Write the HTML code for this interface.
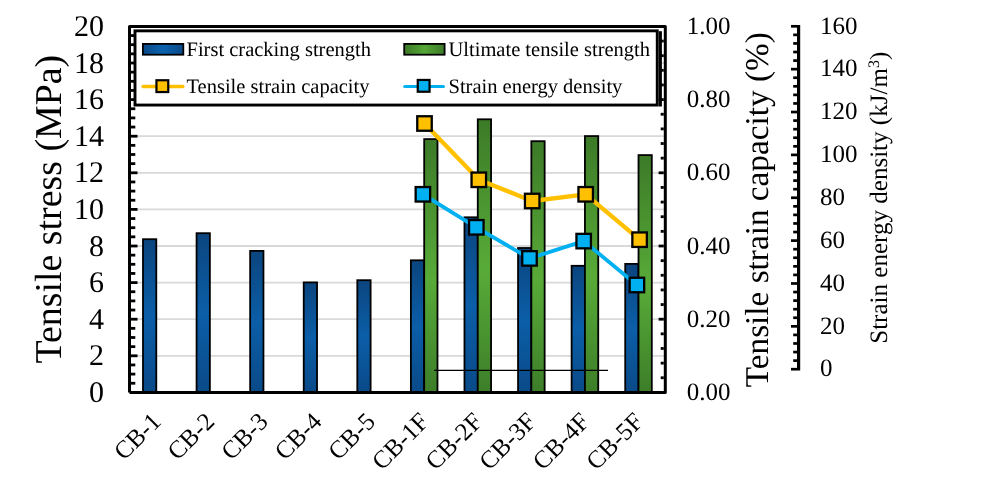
<!DOCTYPE html><html><head><meta charset="utf-8"><style>html,body{margin:0;padding:0;background:#fff;}svg{display:block;will-change:transform;font-family:"Liberation Serif",serif;text-rendering:geometricPrecision;}</style></head><body>
<svg width="988" height="489" viewBox="0 0 988 489">
<defs>
<linearGradient id="gb" x1="0" y1="0" x2="0" y2="1">
<stop offset="0" stop-color="#0b457e"/><stop offset="0.5" stop-color="#0b5ea8"/><stop offset="1" stop-color="#0a4a88"/></linearGradient>
<linearGradient id="gg" x1="0" y1="0" x2="0" y2="1">
<stop offset="0" stop-color="#3c7a27"/><stop offset="0.55" stop-color="#58ab38"/><stop offset="1" stop-color="#3d7e29"/></linearGradient>
<linearGradient id="gbl" x1="0" y1="0" x2="1" y2="0">
<stop offset="0" stop-color="#0a4a88"/><stop offset="0.5" stop-color="#0b62ae"/><stop offset="1" stop-color="#0a4a88"/></linearGradient>
<linearGradient id="ggl" x1="0" y1="0" x2="1" y2="0">
<stop offset="0" stop-color="#3c7a27"/><stop offset="0.5" stop-color="#55a636"/><stop offset="1" stop-color="#3c7a27"/></linearGradient>
</defs>
<line x1="131" y1="355.80" x2="664" y2="355.80" stroke="#d9d9d9" stroke-width="1.8"/>
<line x1="131" y1="319.20" x2="664" y2="319.20" stroke="#d9d9d9" stroke-width="1.8"/>
<line x1="131" y1="282.60" x2="664" y2="282.60" stroke="#d9d9d9" stroke-width="1.8"/>
<line x1="131" y1="246.00" x2="664" y2="246.00" stroke="#d9d9d9" stroke-width="1.8"/>
<line x1="131" y1="209.40" x2="664" y2="209.40" stroke="#d9d9d9" stroke-width="1.8"/>
<line x1="131" y1="172.80" x2="664" y2="172.80" stroke="#d9d9d9" stroke-width="1.8"/>
<line x1="131" y1="136.20" x2="664" y2="136.20" stroke="#d9d9d9" stroke-width="1.8"/>
<line x1="131" y1="99.60" x2="664" y2="99.60" stroke="#d9d9d9" stroke-width="1.8"/>
<line x1="131" y1="63.00" x2="664" y2="63.00" stroke="#d9d9d9" stroke-width="1.8"/>
<rect x="142.99" y="239.20" width="13.30" height="153.20" fill="url(#gb)" stroke="#000" stroke-width="1.8"/>
<rect x="196.57" y="233.20" width="13.30" height="159.20" fill="url(#gb)" stroke="#000" stroke-width="1.8"/>
<rect x="250.15" y="250.90" width="13.30" height="141.50" fill="url(#gb)" stroke="#000" stroke-width="1.8"/>
<rect x="303.73" y="282.40" width="13.30" height="110.00" fill="url(#gb)" stroke="#000" stroke-width="1.8"/>
<rect x="357.31" y="280.20" width="13.30" height="112.20" fill="url(#gb)" stroke="#000" stroke-width="1.8"/>
<rect x="410.89" y="260.30" width="13.30" height="132.10" fill="url(#gb)" stroke="#000" stroke-width="1.8"/>
<rect x="464.47" y="217.30" width="13.30" height="175.10" fill="url(#gb)" stroke="#000" stroke-width="1.8"/>
<rect x="518.05" y="248.00" width="13.30" height="144.40" fill="url(#gb)" stroke="#000" stroke-width="1.8"/>
<rect x="571.63" y="265.80" width="13.30" height="126.60" fill="url(#gb)" stroke="#000" stroke-width="1.8"/>
<rect x="625.21" y="263.90" width="13.30" height="128.50" fill="url(#gb)" stroke="#000" stroke-width="1.8"/>
<rect x="424.19" y="139.10" width="13.30" height="253.30" fill="url(#gg)" stroke="#000" stroke-width="1.8"/>
<rect x="477.77" y="119.30" width="13.30" height="273.10" fill="url(#gg)" stroke="#000" stroke-width="1.8"/>
<rect x="531.35" y="141.20" width="13.30" height="251.20" fill="url(#gg)" stroke="#000" stroke-width="1.8"/>
<rect x="584.93" y="136.10" width="13.30" height="256.30" fill="url(#gg)" stroke="#000" stroke-width="1.8"/>
<rect x="638.51" y="155.10" width="13.30" height="237.30" fill="url(#gg)" stroke="#000" stroke-width="1.8"/>
<line x1="434" y1="370.4" x2="608" y2="370.4" stroke="#000" stroke-width="1.4"/>
<polyline points="424.5,123.5 478.8,179.8 532.2,201.0 585.7,194.3 639.6,239.7" fill="none" stroke="#ffc000" stroke-width="4.3" stroke-linejoin="round"/>
<polyline points="422.9,194.3 476.3,227.3 529.5,258.4 583.7,241.1 636.9,285.0" fill="none" stroke="#00b0f0" stroke-width="3.8" stroke-linejoin="round"/>
<rect x="417.25" y="116.25" width="14.5" height="14.5" fill="#ffc000" stroke="#000" stroke-width="2.3"/>
<rect x="471.55" y="172.55" width="14.5" height="14.5" fill="#ffc000" stroke="#000" stroke-width="2.3"/>
<rect x="524.95" y="193.75" width="14.5" height="14.5" fill="#ffc000" stroke="#000" stroke-width="2.3"/>
<rect x="578.45" y="187.05" width="14.5" height="14.5" fill="#ffc000" stroke="#000" stroke-width="2.3"/>
<rect x="632.35" y="232.45" width="14.5" height="14.5" fill="#ffc000" stroke="#000" stroke-width="2.3"/>
<rect x="415.65" y="187.05" width="14.5" height="14.5" fill="#00b0f0" stroke="#000" stroke-width="2.3"/>
<rect x="469.05" y="220.05" width="14.5" height="14.5" fill="#00b0f0" stroke="#000" stroke-width="2.3"/>
<rect x="522.25" y="251.15" width="14.5" height="14.5" fill="#00b0f0" stroke="#000" stroke-width="2.3"/>
<rect x="576.45" y="233.85" width="14.5" height="14.5" fill="#00b0f0" stroke="#000" stroke-width="2.3"/>
<rect x="629.65" y="277.75" width="14.5" height="14.5" fill="#00b0f0" stroke="#000" stroke-width="2.3"/>
<path d="M129.5,392.4 V26.5 H665.3 V392.4 H129.5" fill="none" stroke="#000" stroke-width="3" stroke-linejoin="round"/>
<line x1="131.00" y1="392.40" x2="137.50" y2="392.40" stroke="#000" stroke-width="2.8"/>
<line x1="131.00" y1="383.25" x2="135.30" y2="383.25" stroke="#000" stroke-width="2.8"/>
<line x1="131.00" y1="374.10" x2="135.30" y2="374.10" stroke="#000" stroke-width="2.8"/>
<line x1="131.00" y1="364.95" x2="135.30" y2="364.95" stroke="#000" stroke-width="2.8"/>
<line x1="131.00" y1="355.80" x2="137.50" y2="355.80" stroke="#000" stroke-width="2.8"/>
<line x1="131.00" y1="346.65" x2="135.30" y2="346.65" stroke="#000" stroke-width="2.8"/>
<line x1="131.00" y1="337.50" x2="135.30" y2="337.50" stroke="#000" stroke-width="2.8"/>
<line x1="131.00" y1="328.35" x2="135.30" y2="328.35" stroke="#000" stroke-width="2.8"/>
<line x1="131.00" y1="319.20" x2="137.50" y2="319.20" stroke="#000" stroke-width="2.8"/>
<line x1="131.00" y1="310.05" x2="135.30" y2="310.05" stroke="#000" stroke-width="2.8"/>
<line x1="131.00" y1="300.90" x2="135.30" y2="300.90" stroke="#000" stroke-width="2.8"/>
<line x1="131.00" y1="291.75" x2="135.30" y2="291.75" stroke="#000" stroke-width="2.8"/>
<line x1="131.00" y1="282.60" x2="137.50" y2="282.60" stroke="#000" stroke-width="2.8"/>
<line x1="131.00" y1="273.45" x2="135.30" y2="273.45" stroke="#000" stroke-width="2.8"/>
<line x1="131.00" y1="264.30" x2="135.30" y2="264.30" stroke="#000" stroke-width="2.8"/>
<line x1="131.00" y1="255.15" x2="135.30" y2="255.15" stroke="#000" stroke-width="2.8"/>
<line x1="131.00" y1="246.00" x2="137.50" y2="246.00" stroke="#000" stroke-width="2.8"/>
<line x1="131.00" y1="236.85" x2="135.30" y2="236.85" stroke="#000" stroke-width="2.8"/>
<line x1="131.00" y1="227.70" x2="135.30" y2="227.70" stroke="#000" stroke-width="2.8"/>
<line x1="131.00" y1="218.55" x2="135.30" y2="218.55" stroke="#000" stroke-width="2.8"/>
<line x1="131.00" y1="209.40" x2="137.50" y2="209.40" stroke="#000" stroke-width="2.8"/>
<line x1="131.00" y1="200.25" x2="135.30" y2="200.25" stroke="#000" stroke-width="2.8"/>
<line x1="131.00" y1="191.10" x2="135.30" y2="191.10" stroke="#000" stroke-width="2.8"/>
<line x1="131.00" y1="181.95" x2="135.30" y2="181.95" stroke="#000" stroke-width="2.8"/>
<line x1="131.00" y1="172.80" x2="137.50" y2="172.80" stroke="#000" stroke-width="2.8"/>
<line x1="131.00" y1="163.65" x2="135.30" y2="163.65" stroke="#000" stroke-width="2.8"/>
<line x1="131.00" y1="154.50" x2="135.30" y2="154.50" stroke="#000" stroke-width="2.8"/>
<line x1="131.00" y1="145.35" x2="135.30" y2="145.35" stroke="#000" stroke-width="2.8"/>
<line x1="131.00" y1="136.20" x2="137.50" y2="136.20" stroke="#000" stroke-width="2.8"/>
<line x1="131.00" y1="127.05" x2="135.30" y2="127.05" stroke="#000" stroke-width="2.8"/>
<line x1="131.00" y1="117.90" x2="135.30" y2="117.90" stroke="#000" stroke-width="2.8"/>
<line x1="131.00" y1="108.75" x2="135.30" y2="108.75" stroke="#000" stroke-width="2.8"/>
<line x1="131.00" y1="99.60" x2="137.50" y2="99.60" stroke="#000" stroke-width="2.8"/>
<line x1="131.00" y1="90.45" x2="135.30" y2="90.45" stroke="#000" stroke-width="2.8"/>
<line x1="131.00" y1="81.30" x2="135.30" y2="81.30" stroke="#000" stroke-width="2.8"/>
<line x1="131.00" y1="72.15" x2="135.30" y2="72.15" stroke="#000" stroke-width="2.8"/>
<line x1="131.00" y1="63.00" x2="137.50" y2="63.00" stroke="#000" stroke-width="2.8"/>
<line x1="131.00" y1="53.85" x2="135.30" y2="53.85" stroke="#000" stroke-width="2.8"/>
<line x1="131.00" y1="44.70" x2="135.30" y2="44.70" stroke="#000" stroke-width="2.8"/>
<line x1="131.00" y1="35.55" x2="135.30" y2="35.55" stroke="#000" stroke-width="2.8"/>
<line x1="131.00" y1="26.40" x2="137.50" y2="26.40" stroke="#000" stroke-width="2.8"/>
<line x1="658.60" y1="392.40" x2="663.80" y2="392.40" stroke="#000" stroke-width="2.8"/>
<line x1="660.70" y1="377.76" x2="663.80" y2="377.76" stroke="#000" stroke-width="2.8"/>
<line x1="660.70" y1="363.12" x2="663.80" y2="363.12" stroke="#000" stroke-width="2.8"/>
<line x1="660.70" y1="348.48" x2="663.80" y2="348.48" stroke="#000" stroke-width="2.8"/>
<line x1="660.70" y1="333.84" x2="663.80" y2="333.84" stroke="#000" stroke-width="2.8"/>
<line x1="658.60" y1="319.20" x2="663.80" y2="319.20" stroke="#000" stroke-width="2.8"/>
<line x1="660.70" y1="304.56" x2="663.80" y2="304.56" stroke="#000" stroke-width="2.8"/>
<line x1="660.70" y1="289.92" x2="663.80" y2="289.92" stroke="#000" stroke-width="2.8"/>
<line x1="660.70" y1="275.28" x2="663.80" y2="275.28" stroke="#000" stroke-width="2.8"/>
<line x1="660.70" y1="260.64" x2="663.80" y2="260.64" stroke="#000" stroke-width="2.8"/>
<line x1="658.60" y1="246.00" x2="663.80" y2="246.00" stroke="#000" stroke-width="2.8"/>
<line x1="660.70" y1="231.36" x2="663.80" y2="231.36" stroke="#000" stroke-width="2.8"/>
<line x1="660.70" y1="216.72" x2="663.80" y2="216.72" stroke="#000" stroke-width="2.8"/>
<line x1="660.70" y1="202.08" x2="663.80" y2="202.08" stroke="#000" stroke-width="2.8"/>
<line x1="660.70" y1="187.44" x2="663.80" y2="187.44" stroke="#000" stroke-width="2.8"/>
<line x1="658.60" y1="172.80" x2="663.80" y2="172.80" stroke="#000" stroke-width="2.8"/>
<line x1="660.70" y1="158.16" x2="663.80" y2="158.16" stroke="#000" stroke-width="2.8"/>
<line x1="660.70" y1="143.52" x2="663.80" y2="143.52" stroke="#000" stroke-width="2.8"/>
<line x1="660.70" y1="128.88" x2="663.80" y2="128.88" stroke="#000" stroke-width="2.8"/>
<line x1="660.70" y1="114.24" x2="663.80" y2="114.24" stroke="#000" stroke-width="2.8"/>
<line x1="658.60" y1="99.60" x2="663.80" y2="99.60" stroke="#000" stroke-width="2.8"/>
<line x1="660.70" y1="84.96" x2="663.80" y2="84.96" stroke="#000" stroke-width="2.8"/>
<line x1="660.70" y1="70.32" x2="663.80" y2="70.32" stroke="#000" stroke-width="2.8"/>
<line x1="660.70" y1="55.68" x2="663.80" y2="55.68" stroke="#000" stroke-width="2.8"/>
<line x1="660.70" y1="41.04" x2="663.80" y2="41.04" stroke="#000" stroke-width="2.8"/>
<line x1="658.60" y1="26.40" x2="663.80" y2="26.40" stroke="#000" stroke-width="2.8"/>
<rect x="135" y="30.85" width="522.25" height="74.2" fill="#fff" stroke="#000" stroke-width="2.9"/>
<rect x="658.8" y="31.2" width="3.1" height="75.3" fill="#000"/>
<rect x="142.9" y="43.9" width="40.4" height="10.8" fill="url(#gbl)" stroke="#000" stroke-width="1.8"/>
<rect x="404.2" y="43.9" width="40.4" height="10.8" fill="url(#ggl)" stroke="#000" stroke-width="1.8"/>
<line x1="143.2" y1="86.5" x2="182.8" y2="86.5" stroke="#ffc000" stroke-width="3.6" stroke-linecap="round"/>
<rect x="156.45" y="80.25" width="11.8" height="11.8" fill="#ffc000" stroke="#000" stroke-width="2.2"/>
<line x1="404.8" y1="86.5" x2="443.4" y2="86.5" stroke="#00b0f0" stroke-width="3.2" stroke-linecap="round"/>
<rect x="417.75" y="79.95" width="11.8" height="11.8" fill="#00b0f0" stroke="#000" stroke-width="2.2"/>
<text x="186.5" y="56.1" font-size="20.5">First cracking strength</text>
<text x="448.5" y="56.1" font-size="20.5">Ultimate tensile strength</text>
<text x="186.5" y="93.1" font-size="20.5">Tensile strain capacity</text>
<text x="448.5" y="93.1" font-size="20.5">Strain energy density</text>
<text x="104" y="402.00" font-size="30" text-anchor="end">0</text>
<text x="104" y="365.40" font-size="30" text-anchor="end">2</text>
<text x="104" y="328.80" font-size="30" text-anchor="end">4</text>
<text x="104" y="292.20" font-size="30" text-anchor="end">6</text>
<text x="104" y="255.60" font-size="30" text-anchor="end">8</text>
<text x="104" y="219.00" font-size="30" text-anchor="end">10</text>
<text x="104" y="182.40" font-size="30" text-anchor="end">12</text>
<text x="104" y="145.80" font-size="30" text-anchor="end">14</text>
<text x="104" y="109.20" font-size="30" text-anchor="end">16</text>
<text x="104" y="72.60" font-size="30" text-anchor="end">18</text>
<text x="104" y="36.00" font-size="30" text-anchor="end">20</text>
<text x="686.8" y="400.00" font-size="25">0.00</text>
<text x="686.8" y="326.80" font-size="25">0.20</text>
<text x="686.8" y="253.60" font-size="25">0.40</text>
<text x="686.8" y="180.40" font-size="25">0.60</text>
<text x="686.8" y="107.20" font-size="25">0.80</text>
<text x="686.8" y="34.00" font-size="25">1.00</text>
<line x1="798.6" y1="25.1" x2="798.6" y2="370.59999999999997" stroke="#000" stroke-width="3.2"/>
<line x1="791.00" y1="369.20" x2="797.2" y2="369.20" stroke="#000" stroke-width="2.7"/>
<line x1="793.20" y1="360.63" x2="797.2" y2="360.63" stroke="#000" stroke-width="2.7"/>
<line x1="793.20" y1="352.06" x2="797.2" y2="352.06" stroke="#000" stroke-width="2.7"/>
<line x1="793.20" y1="343.48" x2="797.2" y2="343.48" stroke="#000" stroke-width="2.7"/>
<line x1="793.20" y1="334.91" x2="797.2" y2="334.91" stroke="#000" stroke-width="2.7"/>
<line x1="791.00" y1="326.34" x2="797.2" y2="326.34" stroke="#000" stroke-width="2.7"/>
<line x1="793.20" y1="317.76" x2="797.2" y2="317.76" stroke="#000" stroke-width="2.7"/>
<line x1="793.20" y1="309.19" x2="797.2" y2="309.19" stroke="#000" stroke-width="2.7"/>
<line x1="793.20" y1="300.62" x2="797.2" y2="300.62" stroke="#000" stroke-width="2.7"/>
<line x1="793.20" y1="292.05" x2="797.2" y2="292.05" stroke="#000" stroke-width="2.7"/>
<line x1="791.00" y1="283.48" x2="797.2" y2="283.48" stroke="#000" stroke-width="2.7"/>
<line x1="793.20" y1="274.90" x2="797.2" y2="274.90" stroke="#000" stroke-width="2.7"/>
<line x1="793.20" y1="266.33" x2="797.2" y2="266.33" stroke="#000" stroke-width="2.7"/>
<line x1="793.20" y1="257.76" x2="797.2" y2="257.76" stroke="#000" stroke-width="2.7"/>
<line x1="793.20" y1="249.19" x2="797.2" y2="249.19" stroke="#000" stroke-width="2.7"/>
<line x1="791.00" y1="240.61" x2="797.2" y2="240.61" stroke="#000" stroke-width="2.7"/>
<line x1="793.20" y1="232.04" x2="797.2" y2="232.04" stroke="#000" stroke-width="2.7"/>
<line x1="793.20" y1="223.47" x2="797.2" y2="223.47" stroke="#000" stroke-width="2.7"/>
<line x1="793.20" y1="214.89" x2="797.2" y2="214.89" stroke="#000" stroke-width="2.7"/>
<line x1="793.20" y1="206.32" x2="797.2" y2="206.32" stroke="#000" stroke-width="2.7"/>
<line x1="791.00" y1="197.75" x2="797.2" y2="197.75" stroke="#000" stroke-width="2.7"/>
<line x1="793.20" y1="189.18" x2="797.2" y2="189.18" stroke="#000" stroke-width="2.7"/>
<line x1="793.20" y1="180.60" x2="797.2" y2="180.60" stroke="#000" stroke-width="2.7"/>
<line x1="793.20" y1="172.03" x2="797.2" y2="172.03" stroke="#000" stroke-width="2.7"/>
<line x1="793.20" y1="163.46" x2="797.2" y2="163.46" stroke="#000" stroke-width="2.7"/>
<line x1="791.00" y1="154.89" x2="797.2" y2="154.89" stroke="#000" stroke-width="2.7"/>
<line x1="793.20" y1="146.31" x2="797.2" y2="146.31" stroke="#000" stroke-width="2.7"/>
<line x1="793.20" y1="137.74" x2="797.2" y2="137.74" stroke="#000" stroke-width="2.7"/>
<line x1="793.20" y1="129.17" x2="797.2" y2="129.17" stroke="#000" stroke-width="2.7"/>
<line x1="793.20" y1="120.60" x2="797.2" y2="120.60" stroke="#000" stroke-width="2.7"/>
<line x1="791.00" y1="112.02" x2="797.2" y2="112.02" stroke="#000" stroke-width="2.7"/>
<line x1="793.20" y1="103.45" x2="797.2" y2="103.45" stroke="#000" stroke-width="2.7"/>
<line x1="793.20" y1="94.88" x2="797.2" y2="94.88" stroke="#000" stroke-width="2.7"/>
<line x1="793.20" y1="86.31" x2="797.2" y2="86.31" stroke="#000" stroke-width="2.7"/>
<line x1="793.20" y1="77.74" x2="797.2" y2="77.74" stroke="#000" stroke-width="2.7"/>
<line x1="791.00" y1="69.16" x2="797.2" y2="69.16" stroke="#000" stroke-width="2.7"/>
<line x1="793.20" y1="60.59" x2="797.2" y2="60.59" stroke="#000" stroke-width="2.7"/>
<line x1="793.20" y1="52.02" x2="797.2" y2="52.02" stroke="#000" stroke-width="2.7"/>
<line x1="793.20" y1="43.44" x2="797.2" y2="43.44" stroke="#000" stroke-width="2.7"/>
<line x1="793.20" y1="34.87" x2="797.2" y2="34.87" stroke="#000" stroke-width="2.7"/>
<line x1="791.00" y1="26.30" x2="797.2" y2="26.30" stroke="#000" stroke-width="2.7"/>
<text x="820" y="376.40" font-size="25">0</text>
<text x="820" y="333.54" font-size="25">20</text>
<text x="820" y="290.68" font-size="25">40</text>
<text x="820" y="247.81" font-size="25">60</text>
<text x="820" y="204.95" font-size="25">80</text>
<text x="820" y="162.09" font-size="25">100</text>
<text x="820" y="119.23" font-size="25">120</text>
<text x="820" y="76.36" font-size="25">140</text>
<text x="820" y="33.50" font-size="25">160</text>
<text transform="translate(61,363.6) rotate(-90)" font-size="37.9">Tensile stress (MPa)</text>
<text transform="translate(767.8,387.2) rotate(-90)" font-size="33.25">Tensile strain capacity (%)</text>
<text transform="translate(887,343.8) rotate(-90)" font-size="25.05">Strain energy density (kJ/m<tspan baseline-shift="super" font-size="16">3</tspan>)</text>
<text transform="translate(162.29,423.0) rotate(-45)" font-size="25.0" text-anchor="end">CB-1</text>
<text transform="translate(215.87,423.0) rotate(-45)" font-size="25.0" text-anchor="end">CB-2</text>
<text transform="translate(269.45,423.0) rotate(-45)" font-size="25.0" text-anchor="end">CB-3</text>
<text transform="translate(323.03,423.0) rotate(-45)" font-size="25.0" text-anchor="end">CB-4</text>
<text transform="translate(376.61,423.0) rotate(-45)" font-size="25.0" text-anchor="end">CB-5</text>
<text transform="translate(430.19,423.0) rotate(-45)" font-size="25.0" text-anchor="end">CB-1F</text>
<text transform="translate(483.77,423.0) rotate(-45)" font-size="25.0" text-anchor="end">CB-2F</text>
<text transform="translate(537.35,423.0) rotate(-45)" font-size="25.0" text-anchor="end">CB-3F</text>
<text transform="translate(590.93,423.0) rotate(-45)" font-size="25.0" text-anchor="end">CB-4F</text>
<text transform="translate(644.51,423.0) rotate(-45)" font-size="25.0" text-anchor="end">CB-5F</text>
</svg></body></html>
